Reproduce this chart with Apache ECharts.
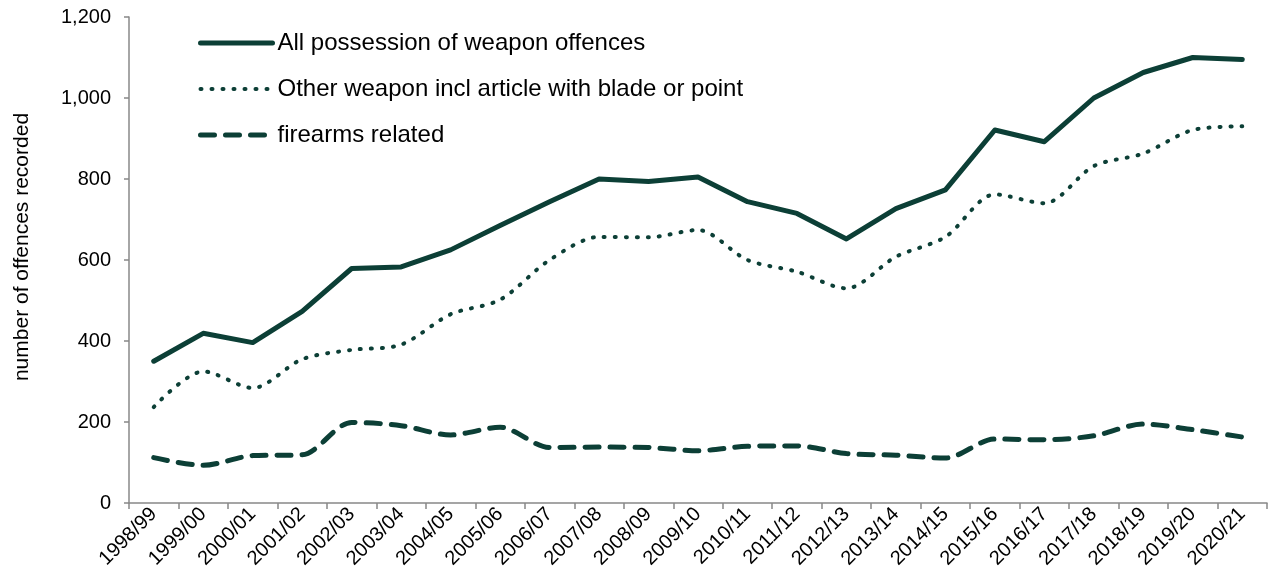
<!DOCTYPE html>
<html>
<head>
<meta charset="utf-8">
<script src="https://cdn.jsdelivr.net/npm/echarts@6/dist/echarts.min.js"></script>
<style>
  html, body { margin: 0; padding: 0; background: #fff; }
  #chart { width: 1269px; height: 588px; }
</style>
</head>
<body>
<div id="chart"></div>
<script>
const years = [
  "1998/99", "1999/00", "2000/01", "2001/02", "2002/03", "2003/04",
  "2004/05", "2005/06", "2006/07", "2007/08", "2008/09", "2009/10",
  "2010/11", "2011/12", "2012/13", "2013/14", "2014/15", "2015/16",
  "2016/17", "2017/18", "2018/19", "2019/20", "2020/21"
];
const allPossession = [
  350, 419, 396, 473, 579, 583, 625, 685, 744, 800, 794, 805,
  744, 715, 652, 727, 773, 921, 892, 1000, 1063, 1100, 1095
];
const otherWeapon = [
  237, 325, 284, 355, 378, 391, 466, 502, 600, 657, 656, 674,
  600, 571, 530, 608, 657, 762, 740, 832, 863, 921, 930
];
const firearms = [
  112, 93, 117, 119, 199, 191, 168, 187, 137, 138, 137, 129,
  140, 141, 122, 118, 111, 158, 156, 166, 195, 181, 163
];
const yTicks = [0, 200, 400, 600, 800, 1000, 1200];

const green = "#0c3f36";
const font = "Liberation Sans, Arial, sans-serif";

const solidStyle = { color: green, width: 5, cap: "round", join: "round" };
const dotStyle = { color: green, width: 4, type: [1, 10], cap: "round" };
const dashStyle = { color: green, width: 5, type: [14, 11], cap: "round" };

const chart = echarts.init(document.getElementById("chart"));

const option = {
  backgroundColor: "#fff",
  animation: false,
  textStyle: { fontFamily: font },
  grid: { left: 129, right: 2, top: 17, bottom: 85 },
  legend: {
    orient: "vertical",
    left: 193,
    top: 26,
    itemWidth: 72,
    itemHeight: 14,
    itemGap: 22,
    itemStyle: { opacity: 0 },
    textStyle: { fontSize: 24, color: "#000", fontFamily: font, lineHeight: 24 },
    data: [
      { name: "All possession of weapon offences", lineStyle: solidStyle },
      { name: "Other weapon incl article with blade or point", lineStyle: dotStyle },
      { name: "firearms related", lineStyle: dashStyle }
    ]
  },
  xAxis: {
    type: "category",
    data: years,
    boundaryGap: true,
    axisLine: { lineStyle: { color: "#888", width: 1.5 } },
    axisTick: { show: true, length: 6, lineStyle: { color: "#888", width: 1.5 } },
    axisLabel: { rotate: 45, fontSize: 20, color: "#000", margin: 8, interval: 0 }
  },
  yAxis: {
    type: "value",
    min: yTicks[0],
    max: yTicks[yTicks.length - 1],
    interval: 200,
    name: "number of offences recorded",
    nameLocation: "middle",
    nameRotate: 90,
    nameGap: 96,
    nameTextStyle: { fontSize: 21, color: "#000", padding: [0, 0, 0, 26] },
    splitLine: { show: false },
    axisLine: { show: true, lineStyle: { color: "#888", width: 1.5 } },
    axisTick: { show: true, length: 5, lineStyle: { color: "#888", width: 1.5 } },
    axisLabel: {
      fontSize: 20,
      color: "#000",
      margin: 18,
      formatter: v => v.toLocaleString("en-US")
    }
  },
  series: [
    {
      name: "All possession of weapon offences",
      type: "line",
      data: allPossession,
      symbol: "none",
      color: green,
      lineStyle: solidStyle
    },
    {
      name: "Other weapon incl article with blade or point",
      type: "line",
      data: otherWeapon,
      symbol: "none",
      smooth: 0.3,
      color: green,
      lineStyle: dotStyle
    },
    {
      name: "firearms related",
      type: "line",
      data: firearms,
      symbol: "none",
      smooth: 0.3,
      color: green,
      lineStyle: dashStyle
    }
  ]
};

chart.setOption(option);
</script>
</body>
</html>
